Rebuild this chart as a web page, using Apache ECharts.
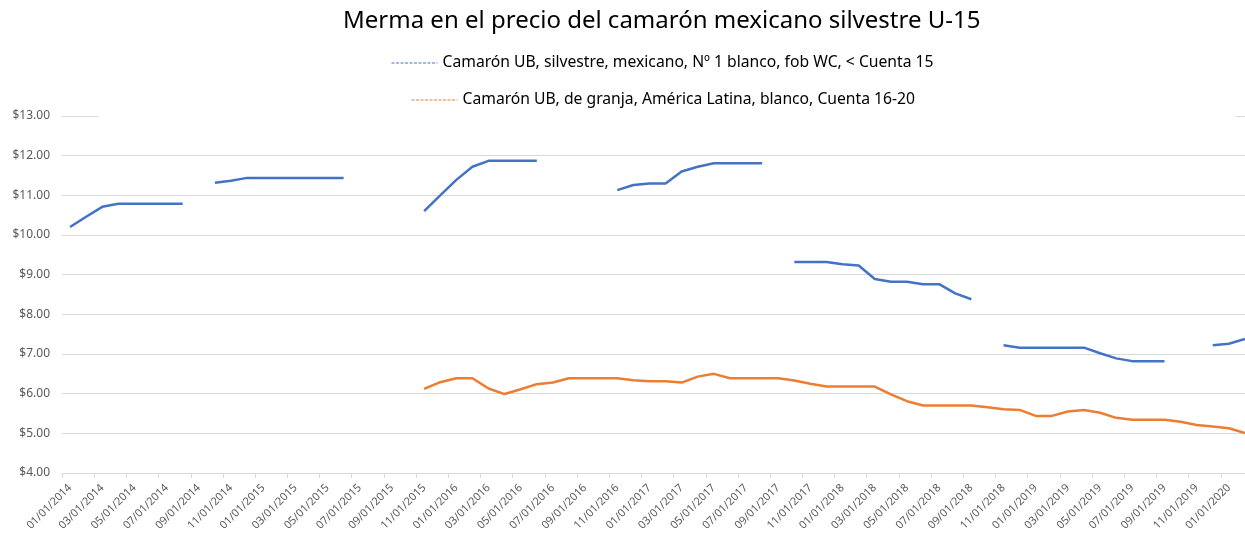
<!DOCTYPE html>
<html>
<head>
<meta charset="utf-8">
<script src="https://cdn.jsdelivr.net/npm/echarts@6/dist/echarts.min.js"></script>
<style>
  html, body { margin: 0; padding: 0; background: #fff; }
  #chart { width: 1245px; height: 538px; }
</style>
</head>
<body>
<div id="chart"></div>
<script>
// meses (primero de cada mes), ene 2014 - feb 2020
const months = [
  "01/01/2014", "02/01/2014", "03/01/2014", "04/01/2014", "05/01/2014", "06/01/2014",
  "07/01/2014", "08/01/2014", "09/01/2014", "10/01/2014", "11/01/2014", "12/01/2014",
  "01/01/2015", "02/01/2015", "03/01/2015", "04/01/2015", "05/01/2015", "06/01/2015",
  "07/01/2015", "08/01/2015", "09/01/2015", "10/01/2015", "11/01/2015", "12/01/2015",
  "01/01/2016", "02/01/2016", "03/01/2016", "04/01/2016", "05/01/2016", "06/01/2016",
  "07/01/2016", "08/01/2016", "09/01/2016", "10/01/2016", "11/01/2016", "12/01/2016",
  "01/01/2017", "02/01/2017", "03/01/2017", "04/01/2017", "05/01/2017", "06/01/2017",
  "07/01/2017", "08/01/2017", "09/01/2017", "10/01/2017", "11/01/2017", "12/01/2017",
  "01/01/2018", "02/01/2018", "03/01/2018", "04/01/2018", "05/01/2018", "06/01/2018",
  "07/01/2018", "08/01/2018", "09/01/2018", "10/01/2018", "11/01/2018", "12/01/2018",
  "01/01/2019", "02/01/2019", "03/01/2019", "04/01/2019", "05/01/2019", "06/01/2019",
  "07/01/2019", "08/01/2019", "09/01/2019", "10/01/2019", "11/01/2019", "12/01/2019",
  "01/01/2020", "02/01/2020"
];

// silvestre mexicano U-15 (huecos = sin dato)
const silvestre = [
  10.20, 10.46, 10.71, 10.79, 10.79, 10.79, 10.79, 10.79, null, 11.32, 11.37, 11.44,
  11.44, 11.44, 11.44, 11.44, 11.44, 11.44, null, null, null, null, 10.60, 11.00,
  11.39, 11.72, 11.87, 11.87, 11.87, 11.87, null, null, null, null, 11.13, 11.26,
  11.30, 11.30, 11.60, 11.72, 11.81, 11.81, 11.81, 11.81, null, 9.32, 9.32, 9.32,
  9.26, 9.23, 8.89, 8.82, 8.82, 8.76, 8.76, 8.53, 8.38, null, 7.22, 7.16,
  7.16, 7.16, 7.16, 7.16, 7.02, 6.89, 6.82, 6.82, 6.82, null, null, 7.22,
  7.26, 7.38
];

// granja America Latina 16-20
const granja = [
  null, null, null, null, null, null, null, null, null, null, null, null,
  null, null, null, null, null, null, null, null, null, null, 6.12, 6.29,
  6.39, 6.39, 6.13, 5.99, 6.11, 6.24, 6.28, 6.39, 6.39, 6.39, 6.39, 6.34,
  6.31, 6.31, 6.28, 6.43, 6.50, 6.39, 6.39, 6.39, 6.39, 6.33, 6.25, 6.18,
  6.18, 6.18, 6.18, 5.98, 5.81, 5.70, 5.70, 5.70, 5.70, 5.66, 5.61, 5.59,
  5.44, 5.44, 5.55, 5.59, 5.52, 5.39, 5.34, 5.34, 5.34, 5.29, 5.21, 5.17,
  5.13, 5.01
];

const nameSilvestre = "Camarón UB, silvestre, mexicano, Nº 1 blanco, fob WC, < Cuenta 15";
const nameGranja = "Camarón UB, de granja, América Latina, blanco, Cuenta 16-20";

const FONT = "Noto Sans";
const grey = "#595959";
const gridGrey = "#d9d9d9";

const myChart = echarts.init(document.getElementById("chart"), null, { renderer: "canvas" });

// leyenda con linea discontinua, sin simbolo
function legendAt(name, left, top) {
  return {
    data: [name],
    left: left,
    top: top,
    padding: 0,
    itemWidth: 46,
    itemHeight: 14,
    selectedMode: false,
    lineStyle: { type: [3, 1.5], width: 1 },
    itemStyle: { opacity: 0 },
    textStyle: { fontFamily: FONT, fontSize: 15.7, color: "#000" }
  };
}

const option = {
  animation: false,
  backgroundColor: "#fff",
  title: {
    text: "Merma en el precio del camarón mexicano silvestre U-15",
    left: 343,
    top: 9,
    padding: 0,
    textStyle: { fontFamily: FONT, fontSize: 24, fontWeight: "normal", color: "#000" }
  },
  legend: [legendAt(nameSilvestre, 391, 55), legendAt(nameGranja, 411, 92)],
  grid: { left: 62, top: 116, width: 1191, height: 357, outerBoundsMode: "none" },
  xAxis: {
    type: "category",
    data: months,
    boundaryGap: true,
    axisLine: { lineStyle: { color: gridGrey, width: 1 } },
    axisTick: { show: true, interval: 1, length: 5, lineStyle: { color: gridGrey } },
    axisLabel: {
      interval: 1,
      rotate: 45,
      margin: 13,
      fontFamily: FONT,
      fontSize: 11,
      color: grey
    }
  },
  yAxis: {
    type: "value",
    min: 4,
    max: 13,
    interval: 1,
    axisLine: { show: false },
    axisTick: { show: false },
    splitLine: { lineStyle: { color: gridGrey, width: 1 } },
    axisLabel: {
      margin: 12,
      fontFamily: FONT,
      fontSize: 12,
      color: grey,
      formatter: v => "$" + v.toFixed(2)
    }
  },
  // caja blanca de la leyenda que tapa la linea de $13
  graphic: [{
    type: "rect",
    z: 100,
    shape: { x: 98, y: 110, width: 1138, height: 10 },
    style: { fill: "#fff" }
  }],
  series: [
    {
      name: nameSilvestre,
      type: "line",
      data: silvestre,
      symbol: "none",
      connectNulls: false,
      color: "#4472C4",
      lineStyle: { color: "#4472C4", width: 2.5 }
    },
    {
      name: nameGranja,
      type: "line",
      data: granja,
      symbol: "none",
      connectNulls: false,
      color: "#ED7D31",
      lineStyle: { color: "#ED7D31", width: 2.5 }
    }
  ]
};

myChart.setOption(option);
</script>
</body>
</html>
